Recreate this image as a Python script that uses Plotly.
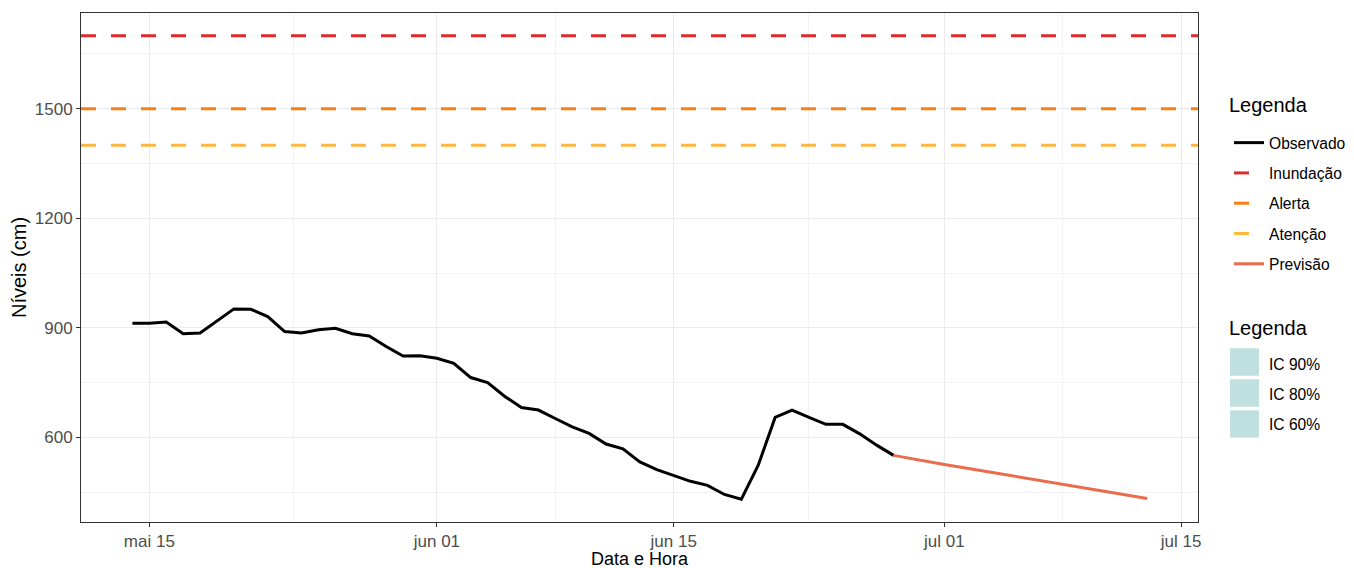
import plotly.graph_objects as go
import pandas as pd

# Observed daily levels (cm)
obs_dates = pd.date_range("2024-05-14", "2024-06-28", freq="D")
obs_values = [913, 913, 916, 884, 886, 920, 952, 951, 931, 890,
              886, 895, 899, 884, 878, 849, 823, 824, 817, 803,
              764, 750, 713, 682, 675, 652, 629, 611, 582, 569,
              533, 512, 496, 480, 469, 444, 431, 524, 655, 675,
              655, 636, 636, 610, 579, 551]

# Forecast
prev_dates = ["2024-06-28", "2024-07-01", "2024-07-13"]
prev_values = [551, 526, 433]

# Reference levels
ref_names = ["Inundação", "Alerta", "Atenção"]
ref_values = [1700, 1500, 1400]
ref_colors = ["#DE2A2A", "#FF7F0E", "#FDB73E"]

ic_names = ["IC 90%", "IC 80%", "IC 60%"]

x_ticks = ["2024-05-15", "2024-06-01", "2024-06-15", "2024-07-01", "2024-07-15"]
x_ticktext = ["mai 15", "jun 01", "jun 15", "jul 01", "jul 15"]
x_minor = ["2024-05-23 12:00", "2024-06-08", "2024-06-23", "2024-07-08"]
y_ticks = [600, 900, 1200, 1500]
y_minor = [450, 750, 1050, 1350, 1650]

x_range = ["2024-05-10 23:00", "2024-07-16 00:00"]
y_range = [368.6, 1762]

FONT = "Liberation Sans, Arial, sans-serif"
DASH = "15px,15px"
W, H = 1346, 560
ML, MR, MT, MB = 73, 156, 5, 46
PW, PH = W - ML - MR, H - MT - MB
OFF = 8  # page body margin


def px_to_paper_x(px):
    return (px - OFF - ML) / PW


def px_to_paper_y(py):
    return (MT + PH - (py - OFF)) / PH


fig = go.Figure()

# reference lines (drawn across the panel)
for name, val, col in zip(ref_names, ref_values, ref_colors):
    fig.add_trace(go.Scatter(x=x_range, y=[val, val], mode="lines",
                             line=dict(color=col, width=3, dash=DASH),
                             showlegend=False, hoverinfo="skip"))

fig.add_trace(go.Scatter(x=obs_dates, y=obs_values, mode="lines",
                         line=dict(color="black", width=3), showlegend=False))
fig.add_trace(go.Scatter(x=prev_dates, y=prev_values, mode="lines",
                         line=dict(color="#EB6B4D", width=3), showlegend=False))

# legend entries
fig.add_trace(go.Scatter(x=[None], y=[None], mode="lines", name="Observado",
                         line=dict(color="black", width=3), legend="legend",
                         legendgroup="g1"))
for i, (name, col) in enumerate(zip(ref_names, ref_colors)):
    fig.add_trace(go.Scatter(x=[None], y=[None], mode="lines", name=name,
                             line=dict(color=col, width=3, dash=DASH), legend="legend",
                             legendgroup="g%d" % (i + 2)))
fig.add_trace(go.Scatter(x=[None], y=[None], mode="lines", name="Previsão",
                         line=dict(color="#EB6B4D", width=3), legend="legend",
                         legendgroup="g5"))

for i, name in enumerate(ic_names):
    fig.add_trace(go.Scatter(x=[None], y=[None], mode="markers", name=name,
                             marker=dict(symbol="square", size=16, color="rgba(0,0,0,0)"),
                             legend="legend2", legendgroup="ic%d" % i))

# legend key swatches for the interval entries
swatch_centers = [362, 393, 424]
shapes = []
for c in swatch_centers:
    shapes.append(dict(type="rect", xref="paper", yref="paper",
                       x0=px_to_paper_x(1230), x1=px_to_paper_x(1259),
                       y0=px_to_paper_y(c + 13.7), y1=px_to_paper_y(c - 13.7),
                       fillcolor="#BFE0DE", line=dict(width=0), layer="above"))

# legend titles and x-axis title
annotations = []
for ty in [105, 328]:
    annotations.append(dict(text="Legenda", xref="paper", yref="paper",
                            x=px_to_paper_x(1227), y=px_to_paper_y(ty),
                            xanchor="left", yanchor="middle", showarrow=False,
                            font=dict(family=FONT, size=20, color="black")))
annotations.append(dict(text="Data e Hora", xref="paper", yref="paper",
                        x=0.5, y=px_to_paper_y(559), xanchor="center", yanchor="middle",
                        showarrow=False, font=dict(family=FONT, size=18, color="black")))

axis_common = dict(showline=True, linecolor="#333333", linewidth=1, mirror=True,
                   ticks="outside", ticklen=4, tickcolor="#333333",
                   tickfont=dict(family=FONT, size=17, color="#4D4D4D"),
                   gridcolor="#EBEBEB", gridwidth=1.2, zeroline=False)

fig.update_layout(
    width=W, height=H,
    margin=dict(l=ML, r=MR, t=MT, b=MB, autoexpand=False),
    paper_bgcolor="white", plot_bgcolor="white",
    font=dict(family=FONT, size=16, color="black"),
    shapes=shapes, annotations=annotations,
    xaxis=dict(**axis_common, type="date", range=x_range,
               tickmode="array", tickvals=x_ticks, ticktext=x_ticktext,
               minor=dict(tickmode="array", tickvals=x_minor, showgrid=True,
                          gridcolor="#F3F3F3", gridwidth=1, ticks="")),
    yaxis=dict(**axis_common, range=y_range, tickmode="array", tickvals=y_ticks,
               minor=dict(tickmode="array", tickvals=y_minor, showgrid=True,
                          gridcolor="#F3F3F3", gridwidth=1, ticks=""),
               title=dict(text="Níveis (cm)", font=dict(family=FONT, size=20), standoff=5)),
    legend=dict(x=px_to_paper_x(1229), y=px_to_paper_y(126),
                xanchor="left", yanchor="top", font=dict(size=15.6),
                itemwidth=30, tracegroupgap=7, bgcolor="rgba(0,0,0,0)"),
    legend2=dict(x=px_to_paper_x(1229), y=px_to_paper_y(347),
                 xanchor="left", yanchor="top", font=dict(size=15.6),
                 itemwidth=30, tracegroupgap=7, bgcolor="rgba(0,0,0,0)"),
)

fig.write_html("out.html")
